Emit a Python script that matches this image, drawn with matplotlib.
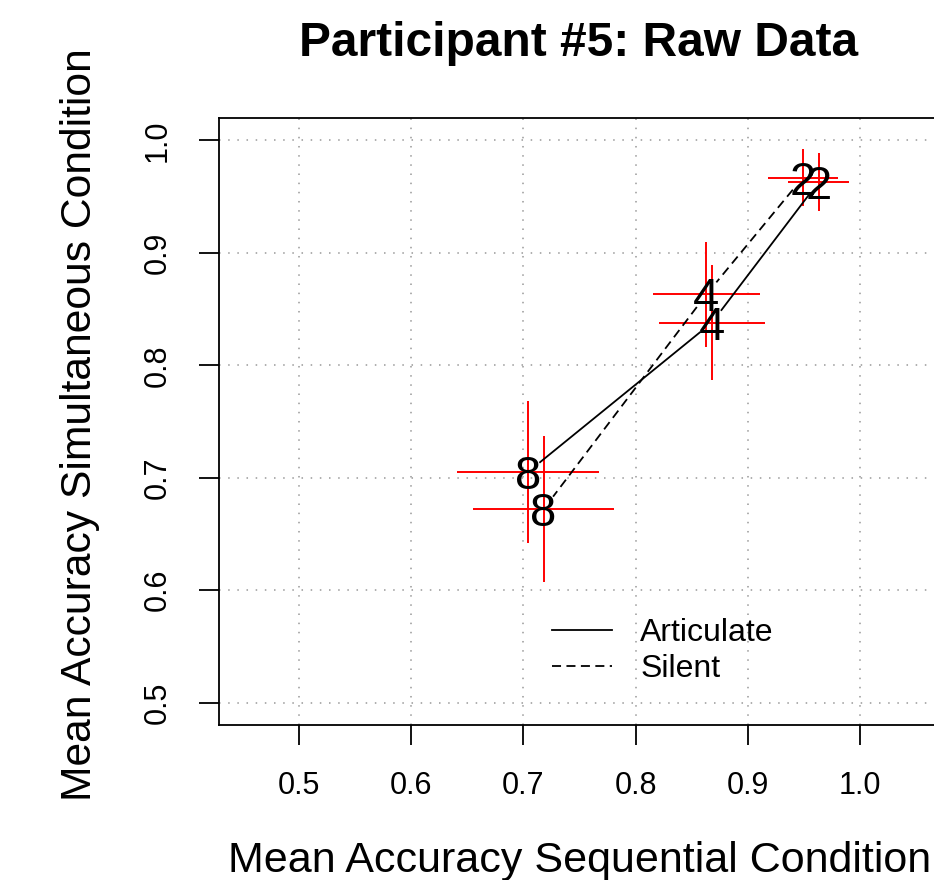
import numpy as np
import matplotlib
matplotlib.use("Agg")
import matplotlib.pyplot as plt

# Participant #5 raw data, set sizes 2, 4, 8
set_sizes = ["2", "4", "8"]

# Articulate condition
art_seq = [0.963, 0.868, 0.704]
art_sim = [0.963, 0.838, 0.705]
art_seq_err = [0.027, 0.047, 0.0635]
art_sim_err = [0.026, 0.051, 0.063]

# Silent condition
sil_seq = [0.949, 0.863, 0.718]
sil_sim = [0.967, 0.863, 0.672]
sil_seq_err = [0.031, 0.0475, 0.063]
sil_sim_err = [0.0255, 0.047, 0.065]

ticks = [0.5, 0.6, 0.7, 0.8, 0.9, 1.0]

plt.rcParams["font.family"] = ["Liberation Sans", "DejaVu Sans"]

fig = plt.figure(figsize=(9.34, 8.8), dpi=100)
ax = fig.add_axes([219 / 934, 155 / 880, 721 / 934, 607 / 880])
ax.set_xlim(0.4288, 1.0712)
ax.set_ylim(0.48, 1.02)


# lines between points with a gap around each label (like R type="b")
def gapped(x, y, ls, gap=0.014, label=None):
    for i in range(len(x) - 1):
        x0, y0, x1, y1 = x[i], y[i], x[i + 1], y[i + 1]
        d = np.hypot(x1 - x0, y1 - y0)
        ux, uy = (x1 - x0) / d, (y1 - y0) / d
        ax.plot([x0 + ux * gap, x1 - ux * gap], [y0 + uy * gap, y1 - uy * gap],
                color="black", lw=1.3, ls=ls, label=label if i == 0 else None)


ax.grid(True, color="#999999", linestyle=(0, (1, 5)), lw=1.1)
ax.set_axisbelow(True)

ax.errorbar(art_seq, art_sim, xerr=art_seq_err, yerr=art_sim_err, fmt="none",
            ecolor="red", elinewidth=1.4, capsize=0)
ax.errorbar(sil_seq, sil_sim, xerr=sil_seq_err, yerr=sil_sim_err, fmt="none",
            ecolor="red", elinewidth=1.4, capsize=0)

gapped(art_seq, art_sim, "-", label="Articulate")
gapped(sil_seq, sil_sim, (0, (5, 3)), label="Silent")

for xs, ys in [(art_seq, art_sim), (sil_seq, sil_sim)]:
    for s, xv, yv in zip(set_sizes, xs, ys):
        ax.text(xv, yv, s, fontsize=34, ha="center", va="center_baseline")

ax.set_xticks(ticks)
ax.set_yticks(ticks)
ax.set_xticklabels([f"{t:.1f}" for t in ticks])
ax.set_yticklabels([f"{t:.1f}" for t in ticks], rotation=90, va="center")
ax.tick_params(direction="out", length=14.4, width=1.3, labelsize=22, pad=19)
for sp in ax.spines.values():
    sp.set_linewidth(1.3)

ax.set_xlabel("Mean Accuracy Sequential Condition", fontsize=31)
ax.xaxis.label.set_va("center")
ax.xaxis.set_label_coords(0.5, (725 - 861) / 607)
ax.set_ylabel("Mean Accuracy Simultaneous Condition", fontsize=30.7)
ax.yaxis.label.set_va("center")
ax.yaxis.set_label_coords((80 - 219) / 721, 0.495)

fig.text(579 / 934, 1 - 44 / 880, "Participant #5: Raw Data", fontsize=34.5,
         fontweight="bold", ha="center", va="center")

ax.legend(loc="center left", bbox_to_anchor=(0.462, 0.1215), frameon=False,
          fontsize=23, handlelength=1.86, handletextpad=0.9, labelspacing=0.2,
          borderpad=0, borderaxespad=0)

fig.savefig("out.png", dpi=100)
